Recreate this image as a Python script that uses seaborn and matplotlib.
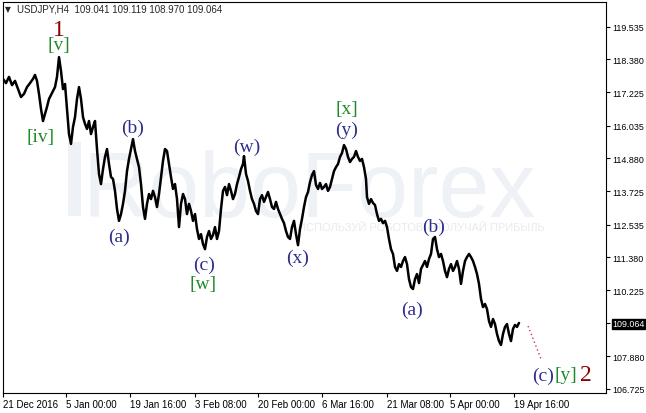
import matplotlib
matplotlib.use("Agg")
import matplotlib.pyplot as plt
import seaborn as sns
import pandas as pd
from matplotlib.patches import Rectangle

# ---------------- data ----------------
bar_idx = (list(range(0, 31, 3)) + list(range(32, 241, 2)) + [241]
           + list(range(243, 364, 2)) + list(range(364, 517, 2)))

close = [
    117.69, 117.54, 117.76, 117.47, 117.62, 117.33, 117.05, 117.16, 117.40, 117.54, 117.69,
    117.83, 117.62, 117.16, 116.63, 116.20, 116.45, 116.70, 116.98, 117.12, 117.26,
    117.40, 117.76, 118.46, 117.97, 117.33, 117.51, 116.63, 115.74, 115.39, 115.99,
    116.34, 116.98, 117.40, 116.98, 116.34, 116.10, 115.92, 116.20, 115.74, 115.99,
    116.20, 115.21, 114.33, 113.97, 114.50, 114.93, 115.21, 114.68, 114.22, 114.15,
    113.73, 113.09, 112.67, 112.91, 113.27, 113.73, 114.43, 114.86, 115.21, 115.56,
    115.14, 114.86, 114.57, 113.97, 113.16, 112.74, 113.27, 113.62, 113.44, 113.73,
    113.51, 113.16, 113.62, 114.22, 114.79, 115.21, 115.14, 114.68, 114.22, 113.80,
    113.97, 113.44, 112.45, 113.27, 113.62, 113.44, 112.91, 113.27, 113.02, 112.67,
    112.91, 112.38, 112.03, 112.20, 111.85, 111.67, 112.10, 112.31, 112.03, 112.17,
    112.45, 112.03, 112.31, 113.09, 113.73, 113.87, 113.58, 113.97, 113.73, 113.44,
    113.62, 113.97, 114.22, 114.50, 114.68,
    114.96,
    114.33, 114.08, 113.73, 113.44, 113.27, 113.02, 112.91, 113.44, 113.58, 113.34,
    113.51, 113.69, 113.44, 113.16, 113.09, 113.34, 113.09, 112.91, 112.74, 112.59,
    112.31, 112.10, 112.03, 112.45, 112.67, 112.20, 111.81, 112.38, 112.74, 113.16,
    113.51, 113.69, 114.04, 114.29, 114.43, 113.94, 113.80, 114.01, 113.80, 113.87,
    113.97, 113.73, 113.87, 114.15, 114.43, 114.57, 114.68, 114.93, 115.07, 115.35,
    115.21, 114.93, 114.75, 114.86, 114.93, 115.14, 114.93, 114.79, 114.86, 114.57,
    114.15,
    113.51, 113.27, 113.44, 113.30, 113.23, 112.91, 112.67, 112.74, 112.59, 112.67,
    112.45, 112.03, 111.67, 111.50, 111.04, 110.90, 111.14, 111.04, 111.25, 111.39,
    111.14, 110.61, 110.33, 110.26, 110.61, 110.79, 110.47, 110.97, 111.11, 111.25,
    111.04, 111.32, 111.50, 112.03, 112.10, 111.67, 111.39, 111.50, 111.25, 110.90,
    110.68, 110.97, 111.14, 110.90, 111.04, 111.25, 110.97, 110.44, 110.90, 111.25,
    111.39, 111.50, 111.39, 111.25, 111.04, 110.79, 110.44, 109.91, 109.62, 109.73,
    109.55, 109.13, 108.92, 109.20, 109.02, 108.67, 108.42, 108.28, 108.67, 108.92,
    109.02, 108.67, 108.42, 108.85, 108.99, 108.92, 109.06,
]
assert len(bar_idx) == len(close)

forecast_idx = [525, 538]
forecast_price = [108.95, 107.79]

ytick_vals = [119.535, 118.380, 117.225, 116.035, 114.880, 113.725,
              112.535, 111.380, 110.225, 109.064, 107.880, 106.725]
current_price = 109.064

xtick_idx = [0, 63, 127, 192, 255, 319, 384, 447, 511]
xtick_labels = ["21 Dec 2016", "5 Jan 00:00", "19 Jan 16:00", "3 Feb 08:00",
                "20 Feb 00:00", "6 Mar 16:00", "21 Mar 08:00", "5 Apr 00:00",
                "19 Apr 16:00"]

header_text = "USDJPY,H4  109.041 109.119 108.970 109.064"

wave_text = ["1", "[v]", "[iv]", "(b)", "(a)", "(c)", "[w]", "(w)", "(x)",
             "[x]", "(y)", "(b)", "(a)", "(c)", "[y]", "2"]
wave_idx = [56, 56, 38, 130, 116, 201, 200, 244, 295, 344, 344, 431, 409, 540, 563, 583]
wave_price = [119.42, 118.89, 115.67, 115.99, 112.13, 111.14, 110.47, 115.32, 111.39,
              116.66, 115.92, 112.49, 109.55, 107.22, 107.22, 107.24]
wave_kind = ["major", "minor", "minor", "sub", "sub", "sub", "minor", "sub", "sub",
             "minor", "sub", "sub", "sub", "sub", "minor", "major"]

# ---------------- style ----------------
sns.set_style("white")
plt.rcParams["font.family"] = ["Liberation Sans", "DejaVu Sans"]

W, H = 646, 414
fig = plt.figure(figsize=(W / 100, H / 100), dpi=100)
ax = fig.add_axes([3 / W, 20 / H, 603 / W, 391 / H])

df = pd.DataFrame({"bar": bar_idx, "close": close})

# watermark
wm = "#eef1f6"
ax.add_patch(Rectangle((65, 112.84), 13, 2.62, color=wm, lw=0, zorder=0))
ax.text(80, 112.84, "RoboForex", fontsize=66, color=wm,
        family="Liberation Sans", va="baseline", ha="left", zorder=0)
ax.text(295, 112.45, "ИСПОЛЬЗУЙ РОБОТОВ - ПОЛУЧАЙ ПРИБЫЛЬ", fontsize=8,
        color="#e8eaee", va="center", ha="left", zorder=0)

sns.lineplot(data=df, x="bar", y="close", ax=ax, color="black", lw=1.8,
             sort=False, estimator=None, zorder=3)
ax.plot(forecast_idx, forecast_price, color="#e0305a", lw=1.0,
        linestyle=(0, (1, 2)), zorder=3)

kind_color = {"major": "#8b0000", "minor": "#1f8a2a", "sub": "#2e2e8c"}
kind_size = {"major": 17, "minor": 14, "sub": 14}
for t, xi, yp, k in zip(wave_text, wave_idx, wave_price, wave_kind):
    ax.text(xi, yp, t, color=kind_color[k], fontsize=kind_size[k],
            family="Liberation Serif", ha="center", va="center", zorder=4)

ax.set_xlim(0, 603)
ax.set_ylim(106.583, 120.409)
ax.set_xlabel("")
ax.set_ylabel("")

ax.yaxis.tick_right()
ax.set_yticks(ytick_vals)
ax.set_yticklabels([f"{v:.3f}" for v in ytick_vals])
ax.tick_params(axis="y", direction="out", length=3, width=0.8, labelsize=6.4,
               pad=1.5, colors="black", right=True, left=False)
for v, lab in zip(ytick_vals, ax.get_yticklabels()):
    if abs(v - current_price) < 1e-6:
        lab.set_color("white")
        lab.set_bbox(dict(facecolor="black", edgecolor="black", pad=0.5))

ax.set_xticks(xtick_idx)
ax.set_xticklabels(xtick_labels)
ax.tick_params(axis="x", direction="out", length=3, width=0.8, labelsize=7,
               pad=1.5, colors="black", bottom=True)
for lab in ax.get_xticklabels():
    lab.set_ha("left")

for s in ax.spines.values():
    s.set_visible(True)
    s.set_color("black")
    s.set_linewidth(0.8)

fig.text(5 / W, 1 - 10 / H, "▼", fontsize=5.5, family="DejaVu Sans",
         va="center", ha="left")
fig.text(17 / W, 1 - 10 / H, header_text, fontsize=7, va="center", ha="left")

fig.savefig("out.png", dpi=100)
